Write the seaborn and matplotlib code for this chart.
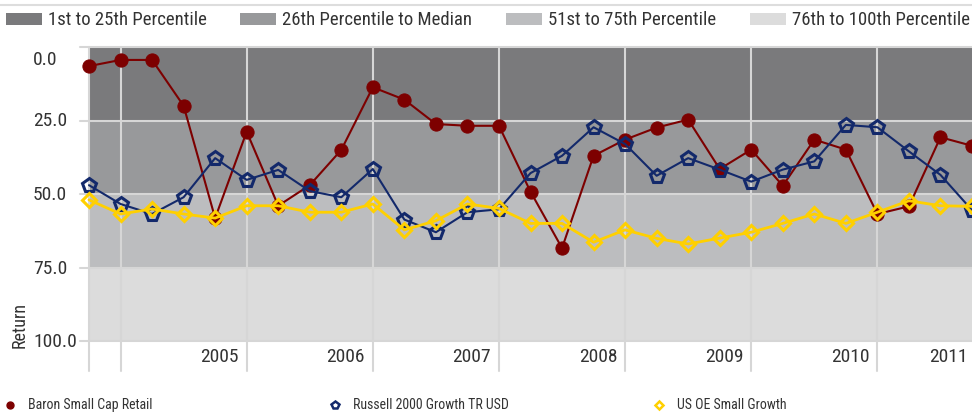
import numpy as np
import matplotlib
matplotlib.use('Agg')
import matplotlib.pyplot as plt
from matplotlib import font_manager
from matplotlib.patches import Rectangle
from matplotlib.lines import Line2D
import seaborn as sns

# quarterly points, Sep 2004 .. Sep 2011 (percentile rank, 0 = best)
quarters = np.arange(29)
baron = [6.5, 4.4, 4.4, 20.0, 58.2, 28.8, 54.0, 47.0, 35.0, 13.7,
         17.9, 26.2, 26.8, 26.8, 49.2, 68.4, 37.0, 31.5, 27.4, 24.7,
         41.5, 34.9, 47.2, 31.5, 34.9, 56.8, 54.2, 30.7, 33.6]
russell = [47.0, 53.4, 56.8, 51.1, 37.8, 45.2, 41.8, 49.0, 51.1, 41.5,
           58.7, 63.0, 56.2, 55.2, 42.9, 37.0, 27.3, 33.0, 43.8, 37.8,
           41.7, 45.8, 41.7, 38.9, 26.5, 27.3, 35.5, 43.5, 55.5]
oe_growth = [52.0, 56.8, 55.1, 56.8, 58.2, 54.0, 54.0, 56.2, 56.2, 53.4,
             62.2, 59.1, 53.4, 54.9, 60.0, 60.0, 66.4, 62.2, 65.1, 67.0,
             65.0, 63.0, 60.0, 56.8, 60.0, 56.2, 52.3, 54.0, 54.2]
series_names = ['Baron Small Cap Retail', 'Russell 2000 Growth TR USD', 'US OE Small Growth']

band_edges = [0, 25, 50, 75, 100]
band_labels = ['1st to 25th Percentile', '26th Percentile to Median',
               '51st to 75th Percentile', '76th to 100th Percentile']
band_colors = ['#7a7a7c', '#98999b', '#bcbdbf', '#dcdcdc']

year_lines = [0, 1, 5, 9, 13, 17, 21, 25]
year_labels = ['2005', '2006', '2007', '2008', '2009', '2010', '2011']
year_label_pos = [5, 9, 13, 17, 21, 25, 28.1]
y_ticks = [0, 25, 50, 75, 100]

sns.set_style('white')
names = {f.name for f in font_manager.fontManager.ttflist}
font = 'DejaVu Sans'
for cand in ['Liberation Sans Narrow', 'DejaVu Sans Condensed', 'Roboto Condensed']:
    if cand in names:
        font = cand
        break
plt.rcParams['font.family'] = [font, 'DejaVu Sans']
plt.rcParams['font.stretch'] = 'condensed'
txt = '#333333'

W, H = 972, 414
fig = plt.figure(figsize=(W / 100, H / 100), dpi=100)
ax = fig.add_axes([89 / W, (H - 342) / H, 883 / W, 294 / H])

for i in range(4):
    ax.axhspan(band_edges[i], band_edges[i + 1], color=band_colors[i], lw=0, zorder=0)

grid_c = '#d6d6d6'
for y in y_ticks:
    ax.plot([-9 / 883, 1.0], [y, y], color=grid_c, lw=1.5, transform=ax.get_yaxis_transform(),
            clip_on=False, zorder=1)
for x in year_lines:
    ax.plot([x, x], [1.0, -30 / 294], color=grid_c, lw=1.5, transform=ax.get_xaxis_transform(),
            clip_on=False, zorder=1)

sns.lineplot(x=quarters, y=baron, ax=ax, color='#7d0000', lw=1.5, marker='o', ms=9.5,
             mec='#7d0000', mfc='#7d0000', legend=False, zorder=3, clip_on=False)
sns.lineplot(x=quarters, y=russell, ax=ax, color='#13296b', lw=1.5, marker='p', ms=10,
             mec='#13296b', mfc='none', mew=2.2, legend=False, zorder=4, clip_on=False)
sns.lineplot(x=quarters, y=oe_growth, ax=ax, color='#ffd000', lw=2, marker='D', ms=7.5,
             mec='#ffd000', mfc='none', mew=2.2, legend=False, zorder=5, clip_on=False)

ax.set_xlim(0, 28)
ax.set_ylim(100, 0)
ax.set_xticks([])
ax.set_yticks([])
for s in ax.spines.values():
    s.set_visible(False)
ax.set_xlabel('')
ax.set_ylabel('')

# y labels are left-aligned in the original
for v in y_ticks:
    yy = 4 if v == 0 else v
    ax.text(-56 / 883, yy, '%.1f' % v, transform=ax.get_yaxis_transform(), ha='left',
            va='center', fontsize=14, color=txt)

for lab, pos in zip(year_labels, year_label_pos):
    ax.text(pos - 0.25, -15 / 294, lab, transform=ax.get_xaxis_transform(), ha='right',
            va='center', fontsize=14, color=txt)

fig.text(20 / W, 1 - 325 / H, 'Return', rotation=90, ha='center', va='center', fontsize=13, color=txt)

# top legend
fig.add_artist(Line2D([0, 1], [1 - 5.5 / H, 1 - 5.5 / H], transform=fig.transFigure, color='#dddddd', lw=1.5))
for lab, col, px, tx in zip(band_labels, band_colors, [6, 240, 506, 750], [48, 282, 548, 792]):
    fig.add_artist(Rectangle((px / W, 1 - 26 / H), 36 / W, 12 / H, transform=fig.transFigure,
                             color=col, lw=0))
    fig.text(tx / W, 1 - 20 / H, lab, ha='left', va='center', fontsize=13.5, color=txt)

# bottom legend
styles = [dict(marker='o', ms=5, mfc='#7d0000', mec='#7d0000', mew=1),
          dict(marker='p', ms=6, mfc='none', mec='#13296b', mew=1.8),
          dict(marker='D', ms=4.5, mfc='none', mec='#ffd000', mew=1.8)]
for name, st, mx, tx in zip(series_names, styles, [10, 335, 659], [28, 353, 677]):
    fig.add_artist(Line2D([mx / W], [1 - 406 / H], transform=fig.transFigure, lw=0, **st))
    fig.text(tx / W, 1 - 405.5 / H, name, ha='left', va='center', fontsize=10, color=txt)

fig.savefig('out.png', dpi=100)
